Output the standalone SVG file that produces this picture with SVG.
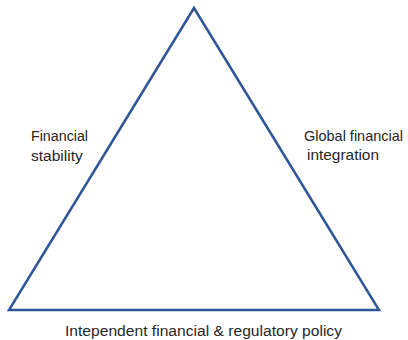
<svg xmlns="http://www.w3.org/2000/svg" width="408" height="340" viewBox="0 0 408 340">
  <style>
    .edge { fill: none; stroke: #2F5597; stroke-width: 2.5; stroke-linejoin: miter; }
    .label { font-family: "Liberation Sans", Arial, sans-serif; font-size: 15.5px; fill: #262626; }
    .label-right { font-size: 14.2px; }
  </style>
  <rect width="408" height="340" fill="#ffffff"/>
  <g id="connectors">
    <polygon class="edge" points="194,8 9,310 379,310"/>
  </g>
  <g id="node-stability">
    <text class="label" x="31" y="141" textLength="57" lengthAdjust="spacingAndGlyphs">Financial</text>
    <text class="label" x="31" y="161">stability</text>
  </g>
  <g id="node-integration">
    <text class="label label-right" x="304" y="141" textLength="99" lengthAdjust="spacingAndGlyphs">Global financial</text>
    <text class="label label-right" x="307" y="160" textLength="72" lengthAdjust="spacingAndGlyphs">integration</text>
  </g>
  <g id="node-policy">
    <text class="label" x="65" y="336" textLength="277" lengthAdjust="spacingAndGlyphs">Intependent financial &amp; regulatory policy</text>
  </g>
</svg>
